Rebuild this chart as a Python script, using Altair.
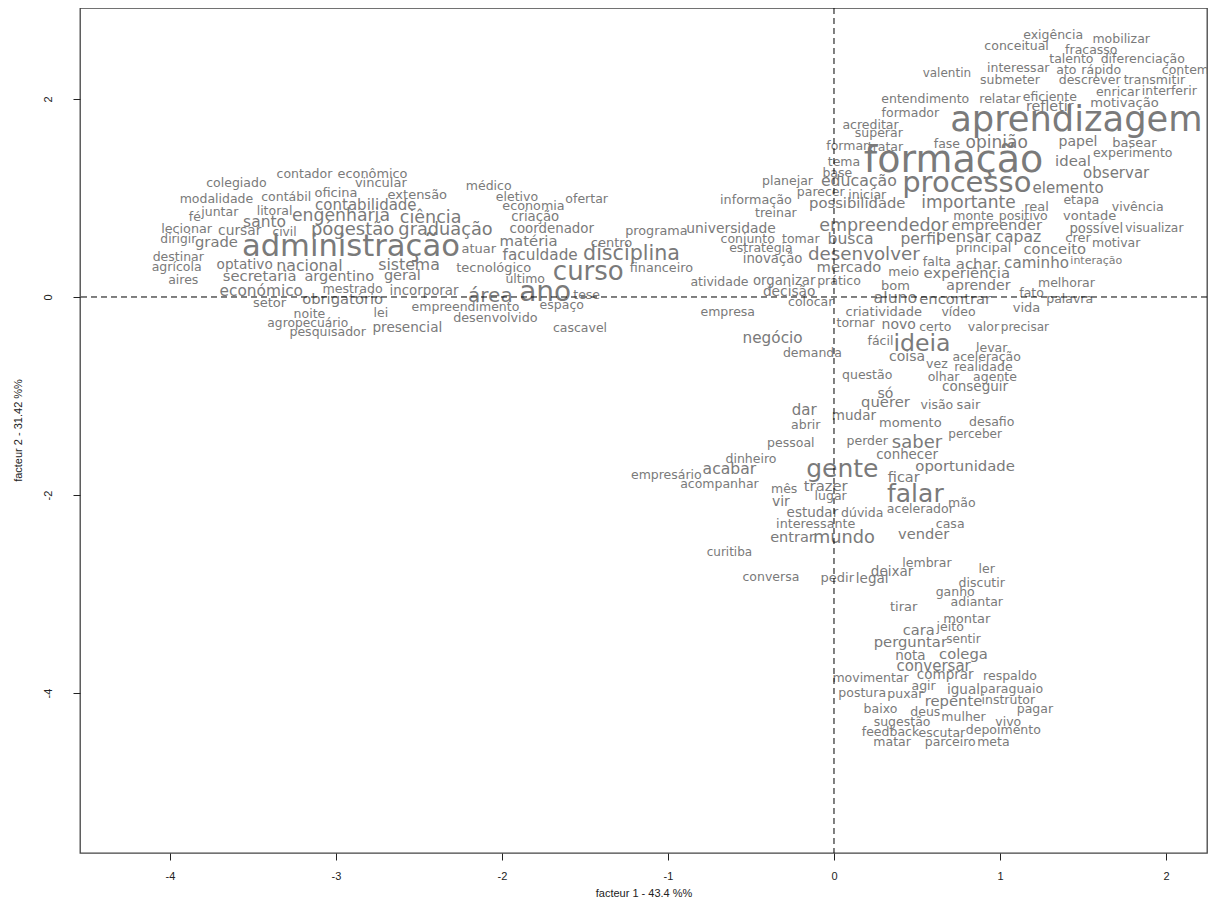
import altair as alt
import pandas as pd

# ---- Block A : left cluster ----
words_a = ["colegiado", "contador", "econômico", "vincular", "modalidade", "contábil", "oficina", "extensão", "contabilidade", "fé",
           "juntar", "litoral", "engenharia", "ciência", "santo", "lecionar", "cursar", "civil", "pógestão", "graduação",
           "dirigir", "grade", "administração", "destinar", "agrícola", "aires", "optativo", "nacional", "sistema", "secretaria",
           "argentino", "geral", "económico", "mestrado", "incorporar", "setor", "obrigatório", "noite", "lei", "agropecuário",
           "pesquisador", "presencial"]
f1_a = [-3.60, -3.19, -2.78, -2.73, -3.72, -3.30, -3.00, -2.51, -2.82, -3.85,
        -3.70, -3.37, -2.97, -2.43, -3.43, -3.90, -3.58, -3.31, -2.90, -2.34,
        -3.95, -3.72, -2.91, -3.95, -3.96, -3.92, -3.55, -3.16, -2.56, -3.46,
        -2.98, -2.60, -3.45, -2.90, -2.47, -3.40, -2.96, -3.16, -2.73, -3.17,
        -3.05, -2.57]
f2_a = [1.15, 1.24, 1.24, 1.15, 0.99, 1.01, 1.05, 1.03, 0.93, 0.81,
        0.86, 0.87, 0.82, 0.80, 0.76, 0.69, 0.67, 0.66, 0.68, 0.68,
        0.59, 0.55, 0.51, 0.40, 0.30, 0.17, 0.32, 0.31, 0.32, 0.20,
        0.20, 0.21, 0.06, 0.08, 0.06, -0.06, -0.03, -0.17, -0.16, -0.26,
        -0.35, -0.31]
cex_a = [1.0, 1.0, 1.03, 1.04, 1.0, 1.0, 1.04, 1.04, 1.2, 1.0,
         1.0, 1.0, 1.38, 1.4, 1.24, 1.02, 1.1, 0.98, 1.44, 1.42,
         0.98, 1.18, 2.45, 1.0, 1.0, 1.0, 1.09, 1.26, 1.26, 1.18,
         1.16, 1.16, 1.23, 1.01, 1.07, 1.04, 1.18, 1.0, 1.0, 0.98,
         1.0, 1.09]

# ---- Block B : centre-left ----
words_b = ["médico", "eletivo", "ofertar", "economia", "criação", "coordenador", "programa", "universidade", "matéria", "centro",
           "atuar", "faculdade", "disciplina", "tecnológico", "curso", "financeiro", "último", "atividade", "ano", "área",
           "tese", "empreendimento", "espaço", "desenvolvido", "cascavel", "empresa", "informação"]
f1_b = [-2.08, -1.91, -1.49, -1.81, -1.80, -1.70, -1.07, -0.62, -1.84, -1.34,
        -2.14, -1.77, -1.22, -2.05, -1.48, -1.04, -1.86, -0.69, -1.74, -2.07,
        -1.49, -2.22, -1.64, -2.04, -1.53, -0.64, -0.47]
f2_b = [1.12, 1.01, 0.99, 0.92, 0.81, 0.69, 0.67, 0.69, 0.56, 0.55,
        0.48, 0.42, 0.43, 0.29, 0.25, 0.29, 0.18, 0.15, 0.04, 0.01,
        0.02, -0.10, -0.08, -0.21, -0.31, -0.15, 0.98]
cex_b = [1.0, 1.0, 1.0, 1.02, 1.06, 1.07, 1.02, 1.11, 1.19, 1.04,
         1.04, 1.22, 1.65, 1.04, 2.08, 1.02, 1.0, 1.0, 2.24, 1.6,
         1.0, 1.0, 1.0, 1.02, 1.0, 1.0, 1.02]

# ---- Block C : upper right ----
words_c = ["acreditar", "superar", "formar", "tratar", "fase", "tema", "formação", "base", "planejar", "educação",
           "processo", "parecer", "iniciar", "possibilidade", "treinar", "importante", "real", "empreendedor", "empreender", "monte",
           "positivo", "conjunto", "tomar", "busca", "perfil", "pensar", "capaz", "estratégia", "inovação", "desenvolver",
           "falta", "mercado", "meio", "experiência", "organizar", "prático", "bom", "decisão", "colocar", "aluno",
           "encontrar", "aprender", "achar", "caminho", "interação", "principal", "conceito", "motivar", "crer", "possível",
           "visualizar", "vontade", "etapa", "vivência", "elemento", "observar", "ideal", "experimento", "papel", "basear",
           "opinião", "aprendizagem"]
f1_c = [0.22, 0.27, 0.08, 0.31, 0.68, 0.06, 0.72, 0.02, -0.28, 0.15,
        0.80, -0.08, 0.20, 0.14, -0.35, 0.81, 1.22, 0.30, 0.98, 0.84,
        1.14, -0.52, -0.20, 0.10, 0.52, 0.78, 1.11, -0.44, -0.37, 0.18,
        0.62, 0.09, 0.42, 0.80, -0.30, 0.03, 0.37, -0.27, -0.14, 0.37,
        0.73, 0.87, 0.86, 1.22, 1.58, 0.90, 1.33, 1.70, 1.47, 1.58,
        1.93, 1.54, 1.49, 1.83, 1.41, 1.70, 1.44, 1.80, 1.47, 1.81,
        0.98, 1.46]
f2_c = [1.74, 1.66, 1.53, 1.52, 1.55, 1.36, 1.37, 1.25, 1.17, 1.17,
        1.15, 1.06, 1.03, 0.94, 0.85, 0.95, 0.91, 0.72, 0.72, 0.82,
        0.82, 0.59, 0.59, 0.59, 0.59, 0.61, 0.61, 0.49, 0.38, 0.42,
        0.35, 0.29, 0.25, 0.23, 0.16, 0.16, 0.11, 0.05, -0.05, -0.01,
        -0.03, 0.11, 0.32, 0.34, 0.36, 0.49, 0.47, 0.55, 0.60, 0.69,
        0.70, 0.82, 0.98, 0.91, 1.10, 1.25, 1.36, 1.45, 1.57, 1.56,
        1.56, 1.79]
cex_c = [1.0, 1.0, 1.0, 1.0, 1.0, 1.0, 3.04, 1.0, 1.0, 1.26,
         2.32, 1.0, 1.0, 1.18, 1.0, 1.36, 1.04, 1.4, 1.18, 1.0,
         1.0, 1.0, 1.0, 1.25, 1.24, 1.28, 1.25, 1.0, 1.06, 1.46,
         1.0, 1.18, 1.0, 1.19, 1.06, 1.0, 1.04, 1.1, 1.0, 1.26,
         1.18, 1.13, 1.19, 1.21, 0.88, 1.04, 1.18, 1.0, 1.04, 1.06,
         0.98, 1.04, 1.0, 1.0, 1.2, 1.2, 1.19, 1.0, 1.12, 1.04,
         1.36, 2.82]

# ---- Block D : top ----
words_d = ["exigência", "mobilizar", "conceitual", "fracasso", "talento", "diferenciação", "interessar", "ato", "rápido", "contemplar",
           "valentin", "submeter", "descrever", "transmitir", "entendimento", "relatar", "eficiente", "refletir", "motivação", "enricar",
           "interferir", "formador"]
f1_d = [1.32, 1.73, 1.10, 1.55, 1.43, 1.86, 1.11, 1.40, 1.61, 2.19,
        0.68, 1.06, 1.54, 1.93, 0.55, 1.00, 1.30, 1.30, 1.75, 1.71,
        2.02, 0.46]
f2_d = [2.65, 2.61, 2.54, 2.49, 2.40, 2.40, 2.31, 2.29, 2.29, 2.29,
        2.26, 2.19, 2.19, 2.19, 2.00, 2.00, 2.02, 1.92, 1.96, 2.07,
        2.08, 1.86]
cex_d = [1.0, 1.0, 1.0, 1.0, 1.0, 1.0, 1.0, 1.0, 1.0, 1.0,
         0.96, 1.0, 1.0, 1.0, 1.0, 1.0, 1.0, 1.15, 1.05, 1.0,
         1.0, 1.0]

# ---- Block E : lower right ----
words_e = ["melhorar", "fato", "palavra", "vida", "criatividade", "vídeo", "tornar", "novo", "certo", "valor",
           "precisar", "fácil", "ideia", "levar", "aceleração", "coisa", "vez", "realidade", "questão", "olhar",
           "agente", "conseguir", "só", "querer", "visão", "sair", "dar", "mudar", "abrir", "momento",
           "desafio", "perceber", "pessoal", "perder", "saber", "conhecer", "dinheiro", "oportunidade", "gente", "empresário",
           "acabar", "acompanhar", "ficar", "mês", "trazer", "falar", "mão", "lugar", "vir", "acelerador",
           "estudar", "dúvida", "interessante", "casa", "entrar", "mundo", "vender", "curitiba", "negócio", "demanda"]
f1_e = [1.40, 1.19, 1.42, 1.16, 0.30, 0.75, 0.13, 0.39, 0.61, 0.90,
        1.15, 0.28, 0.53, 0.95, 0.92, 0.44, 0.62, 0.90, 0.20, 0.66,
        0.97, 0.85, 0.31, 0.31, 0.62, 0.81, -0.18, 0.12, -0.17, 0.46,
        0.95, 0.85, -0.26, 0.20, 0.50, 0.44, -0.50, 0.79, 0.05, -1.01,
        -0.63, -0.69, 0.42, -0.30, -0.05, 0.49, 0.77, -0.02, -0.32, 0.52,
        -0.13, 0.17, -0.11, 0.70, -0.25, 0.06, 0.54, -0.63, -0.37, -0.13]
f2_e = [0.14, 0.04, -0.02, -0.11, -0.15, -0.15, -0.26, -0.28, -0.30, -0.30,
        -0.30, -0.44, -0.47, -0.52, -0.61, -0.61, -0.68, -0.71, -0.79, -0.81,
        -0.81, -0.91, -0.98, -1.07, -1.09, -1.09, -1.14, -1.20, -1.29, -1.27,
        -1.26, -1.38, -1.47, -1.45, -1.47, -1.60, -1.64, -1.72, -1.74, -1.80,
        -1.74, -1.89, -1.83, -1.94, -1.92, -1.99, -2.08, -2.01, -2.07, -2.14,
        -2.18, -2.18, -2.29, -2.29, -2.43, -2.43, -2.40, -2.58, -0.41, -0.57]
cex_e = [1.0, 1.0, 1.0, 1.04, 1.04, 1.0, 1.0, 1.12, 1.0, 1.0,
         0.96, 1.0, 1.89, 1.0, 1.0, 1.12, 1.0, 1.0, 1.0, 1.0,
         1.0, 1.08, 1.12, 1.18, 1.0, 1.04, 1.2, 1.08, 1.0, 1.04,
         1.0, 0.96, 1.0, 1.0, 1.44, 1.07, 1.0, 1.19, 2.0, 1.0,
         1.25, 1.0, 1.16, 1.0, 1.18, 2.0, 1.0, 1.0, 1.12, 1.0,
         1.08, 1.0, 1.02, 1.0, 1.16, 1.42, 1.17, 0.96, 1.22, 1.0]

# ---- Block F : bottom ----
words_f = ["lembrar", "ler", "deixar", "conversa", "pedir", "legal", "discutir", "ganho", "adiantar", "tirar",
           "montar", "jeito", "cara", "sentir", "perguntar", "nota", "colega", "conversar", "movimentar", "comprar",
           "respaldo", "agir", "postura", "puxar", "igual", "paraguaio", "repente", "instrutor", "baixo", "deus",
           "mulher", "pagar", "vivo", "sugestão", "feedback", "escutar", "depoimento", "matar", "parceiro", "meta"]
f1_f = [0.56, 0.92, 0.35, -0.38, 0.02, 0.23, 0.89, 0.73, 0.86, 0.42,
        0.80, 0.70, 0.51, 0.78, 0.46, 0.46, 0.78, 0.60, 0.22, 0.67,
        1.06, 0.54, 0.17, 0.43, 0.78, 1.07, 0.72, 1.05, 0.28, 0.55,
        0.78, 1.21, 1.05, 0.41, 0.34, 0.65, 1.02, 0.35, 0.70, 0.96]
f2_f = [-2.69, -2.75, -2.78, -2.83, -2.84, -2.85, -2.89, -2.98, -3.08, -3.13,
        -3.25, -3.33, -3.37, -3.45, -3.49, -3.63, -3.62, -3.73, -3.85, -3.82,
        -3.83, -3.93, -4.00, -4.01, -3.97, -3.96, -4.09, -4.07, -4.16, -4.19,
        -4.24, -4.16, -4.29, -4.29, -4.39, -4.40, -4.37, -4.49, -4.49, -4.49]
cex_f = [1.0, 1.0, 1.08, 1.0, 1.04, 1.08, 1.0, 1.0, 1.0, 1.04,
         1.04, 1.0, 1.17, 0.96, 1.18, 1.08, 1.18, 1.2, 1.0, 1.08,
         1.0, 1.0, 1.0, 1.0, 1.08, 1.0, 1.18, 1.0, 1.0, 1.0,
         1.0, 1.0, 1.0, 1.0, 1.0, 1.0, 1.0, 1.0, 1.0, 1.0]

x_ticks = [-4, -3, -2, -1, 0, 1, 2]
y_ticks = [-4, -2, 0, 2]
x_title = "facteur 1 - 43.4 %%"
y_title = "facteur 2 - 31.42 %%"

blocks = [(words_a, f1_a, f2_a, cex_a), (words_b, f1_b, f2_b, cex_b), (words_c, f1_c, f2_c, cex_c),
          (words_d, f1_d, f2_d, cex_d), (words_e, f1_e, f2_e, cex_e), (words_f, f1_f, f2_f, cex_f)]
frames = []
for w, a, b, c in blocks:
    n = min(len(w), len(a), len(b), len(c))
    frames.append(pd.DataFrame({"word": w[:n], "f1": a[:n], "f2": b[:n], "cex": c[:n]}))
df = pd.concat(frames, ignore_index=True)

xscale = alt.Scale(domain=[-4.542, 2.247], nice=False, zero=False)
yscale = alt.Scale(domain=[-5.616, 2.919], nice=False, zero=False)

x_axis = alt.Axis(values=x_ticks, title=x_title, labelExpr="'' + datum.value",
                  labelPadding=16, labelBaseline="middle", titleY=40, titleBaseline="middle")
y_axis = alt.Axis(values=y_ticks, title=y_title, labelExpr="'' + datum.value",
                  labelAngle=270, labelAlign="center", labelBaseline="middle", labelPadding=25,
                  titleX=-62, titleY=422, titleAlign="center", titleBaseline="middle")

text = alt.Chart(df).mark_text(
    font="DejaVu Sans", color="#7a7a7a", align="center", baseline="middle", clip=True
).encode(
    x=alt.X("f1:Q", scale=xscale, axis=x_axis),
    y=alt.Y("f2:Q", scale=yscale, axis=y_axis),
    text="word:N",
    size=alt.Size("cex:Q", scale=alt.Scale(type="linear", domain=[1, 3], range=[12.5, 37.5]), legend=None),
)

vline = alt.Chart(pd.DataFrame({"f1": [0]})).mark_rule(
    strokeDash=[6, 4], color="#000", strokeWidth=1
).encode(x=alt.X("f1:Q", scale=xscale, axis=x_axis))
hline = alt.Chart(pd.DataFrame({"f2": [0]})).mark_rule(
    strokeDash=[6, 4], color="#000", strokeWidth=1
).encode(y=alt.Y("f2:Q", scale=yscale, axis=y_axis))

chart = alt.layer(text, vline, hline).properties(
    width=1127, height=845,
    autosize=alt.AutoSizeParams(type="none"),
    padding={"left": 72, "top": 0, "right": 1, "bottom": 45},
    background="white",
).configure_view(
    stroke="#444", strokeWidth=1.3
).configure_axis(
    grid=False, domain=False, ticks=True, tickColor="#222", tickSize=7, tickWidth=1,
    labelFont="Liberation Sans", labelFontSize=11, labelColor="#222",
    titleFont="Liberation Sans", titleFontSize=11, titleFontWeight="normal", titleColor="#222",
)

chart.save("out.html", embed_options={"renderer": "svg", "actions": False})
